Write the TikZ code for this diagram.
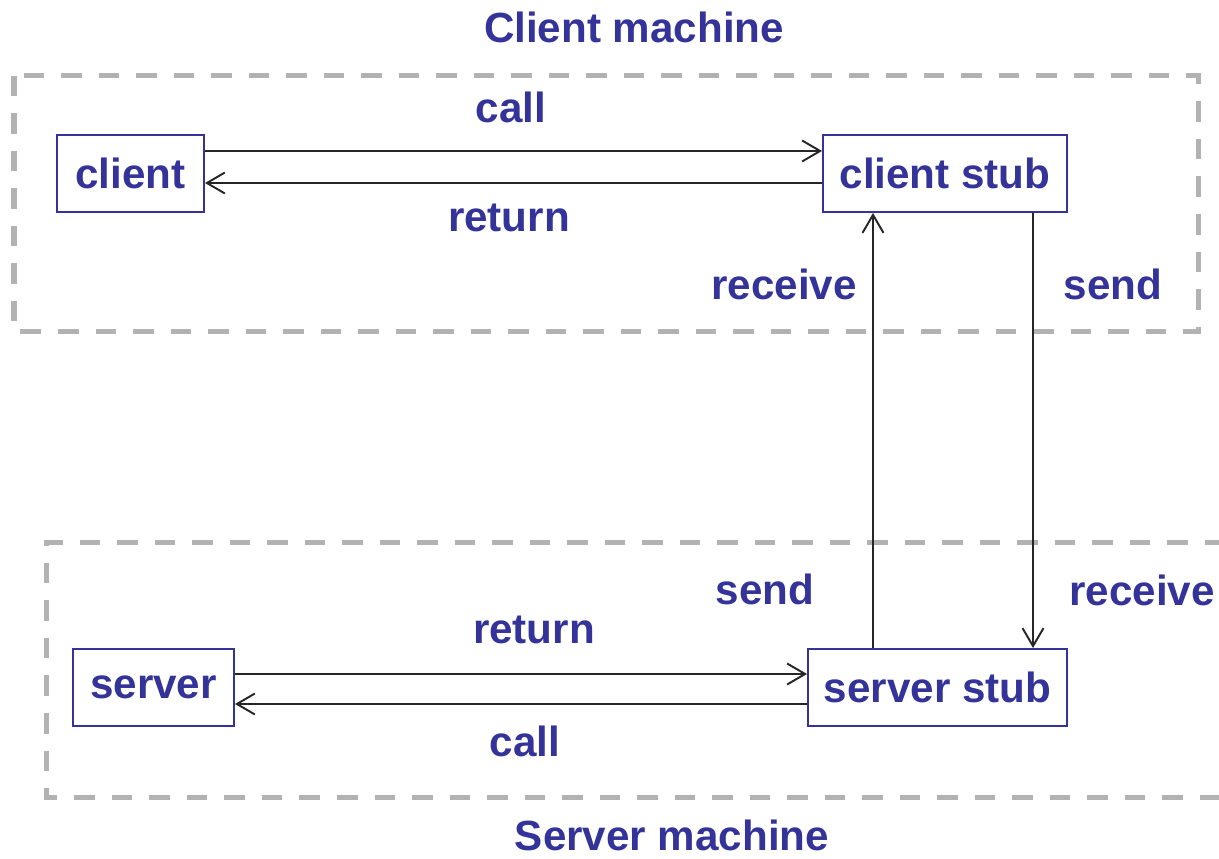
\documentclass[tikz,border=0pt]{standalone}
\usepackage{fontspec}
\setmainfont{Liberation Sans}
\usetikzlibrary{arrows.meta}
\definecolor{rpcblue}{RGB}{51,51,153}
\definecolor{machinegray}{RGB}{178,178,178}
\tikzset{
  proc/.style={draw=rpcblue, line width=1.1pt, minimum height=1.54cm, inner sep=0pt,
    font=\bfseries\fontsize{24}{28}\selectfont, text=rpcblue},
  lbl/.style={font=\bfseries\fontsize{24}{28}\selectfont, text=rpcblue, inner sep=0pt},
  msg/.style={line width=1.1pt, draw=black!85, -{Straight Barb[length=3.6mm,width=4.2mm]}},
  machine/.style={draw=machinegray, line width=0.1cm, dash pattern=on 0.41cm off 0.34cm}
}
\begin{document}
\begin{tikzpicture}
\useasboundingbox (0,0) rectangle (24.38,-17.18);
% machines
\draw[machine] (0.28,-1.52) rectangle (23.96,-6.64);
\draw[machine] (24.5,-10.84) -- (0.92,-10.84) -- (0.92,-15.94) -- (24.5,-15.94);
\node[lbl] (cm) at (12.68,-0.54) {Client machine};
\node[lbl] (sm) at (13.44,-16.7) {Server machine};
% client side
\node[proc, minimum width=2.94cm] (client) at (2.61,-3.47) {client};
\node[proc, minimum width=4.88cm] (cstub) at (18.9,-3.47) {client stub};
\draw[msg] ([yshift=0.45cm]client.east) -- ([yshift=0.45cm]cstub.west);
\draw[msg] ([yshift=-0.19cm]cstub.west) -- ([yshift=-0.19cm]client.east);
\node[lbl] (ccall) at (10.22,-2.14) {call};
\node[lbl] (cret) at (10.18,-4.36) {return};
% server side
\node[proc, minimum width=3.22cm] (server) at (3.07,-13.75) {server};
\node[proc, minimum width=5.18cm] (sstub) at (18.75,-13.75) {server stub};
\draw[msg] ([yshift=0.27cm]server.east) -- ([yshift=0.27cm]sstub.west);
\draw[msg] ([yshift=-0.33cm]sstub.west) -- ([yshift=-0.33cm]server.east);
\node[lbl] (sret) at (10.68,-12.6) {return};
\node[lbl] (scall) at (10.5,-14.82) {call};
% network
\draw[msg] ([xshift=1.76cm]cstub.south) -- ([xshift=1.91cm]sstub.north);
\draw[msg] ([xshift=-1.29cm]sstub.north) -- ([xshift=-1.44cm]cstub.south);
\node[lbl] (crecv) at (15.68,-5.68) {receive};
\node[lbl] (csend) at (22.26,-5.68) {send};
\node[lbl] (ssend) at (15.3,-11.78) {send};
\node[lbl] (srecv) at (22.84,-11.8) {receive};
\end{tikzpicture}
\end{document}
